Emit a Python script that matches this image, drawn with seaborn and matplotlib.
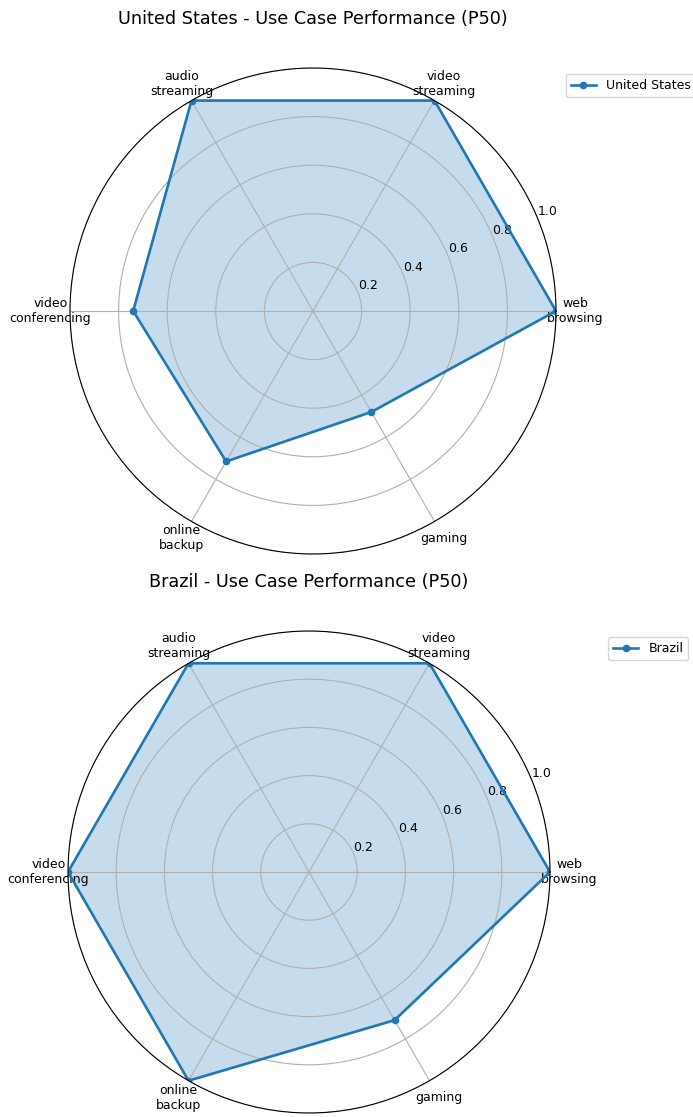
import numpy as np
import pandas as pd
import matplotlib
matplotlib.use("Agg")
import matplotlib.pyplot as plt
import seaborn as sns

categories = ["web\nbrowsing", "video\nstreaming", "audio\nstreaming",
              "video\nconferencing", "online\nbackup", "gaming"]
countries = ["United States", "Brazil"]
us_values = [1.0, 1.0, 1.0, 0.74, 0.715, 0.48]
br_values = [1.0, 1.0, 1.0, 1.0, 1.0, 0.71]
r_ticks = [0.2, 0.4, 0.6, 0.8, 1.0]

n = len(categories)
angles = np.linspace(0, 2 * np.pi, n, endpoint=False)

fig = plt.figure(figsize=(6.93, 11.17), dpi=100)
rects = [
    [70 / 693, (1117 - 554) / 1117, 486 / 693, 486 / 1117],
    [68 / 693, (1117 - 1113) / 1117, 482 / 693, 482 / 1117],
]

for country, values, rect in zip(countries, [us_values, br_values], rects):
    ax = fig.add_axes(rect, projection="polar")
    # close the loop
    df = pd.DataFrame({
        "angle": list(angles) + [angles[0]],
        "value": list(values) + [values[0]],
    })
    sns.lineplot(data=df, x="angle", y="value", ax=ax, sort=False, estimator=None,
                 color="#1f77b4", linewidth=1.9, marker="o", markersize=5.5,
                 markeredgewidth=0, label=country)
    ax.fill(df["angle"], df["value"], color="#1f77b4", alpha=0.25)
    ax.set_xticks(angles)
    ax.set_xticklabels(categories, fontsize=9)
    ax.set_ylim(0, 1)
    ax.set_yticks(r_ticks)
    ax.set_yticklabels([f"{t:.1f}" for t in r_ticks], fontsize=9)
    ax.set_xlabel("")
    ax.set_ylabel("")
    ax.set_title(f"{country} - Use Case Performance (P50)", fontsize=12.7, pad=32)
    ax.legend(loc="upper right", bbox_to_anchor=(1.3, 1.0), fontsize=9)

fig.savefig("out.png", dpi=100)
